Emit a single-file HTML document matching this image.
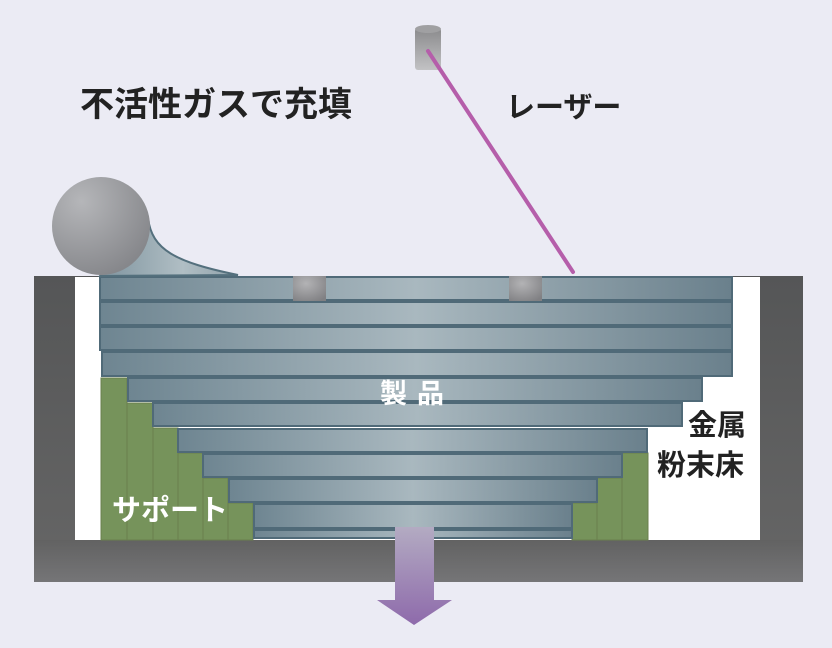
<!DOCTYPE html>
<html><head><meta charset="utf-8"><style>
body{margin:0;background:#ebebf4;}
svg{display:block}
text{font-family:"Liberation Sans","Noto Sans CJK JP",sans-serif;font-weight:bold}
</style></head><body>
<svg width="832" height="648" viewBox="0 0 832 648">
<defs>
<linearGradient id="lay" x1="0" x2="1" y1="0" y2="0">
<stop offset="0" stop-color="#6e8591"/><stop offset="0.5" stop-color="#a9b8bf"/><stop offset="1" stop-color="#6a808c"/>
</linearGradient>
<linearGradient id="base" x1="0" x2="0" y1="0" y2="1"><stop offset="0" stop-color="#626262"/><stop offset="1" stop-color="#757577"/></linearGradient>
<linearGradient id="wall" x1="0" x2="0" y1="0" y2="1"><stop offset="0" stop-color="#555657"/><stop offset="1" stop-color="#666"/></linearGradient>
<radialGradient id="ball" cx="0.3" cy="0.25" r="0.8"><stop offset="0" stop-color="#b5b6b9"/><stop offset="1" stop-color="#86878b"/></radialGradient>
<radialGradient id="cube" cx="0.4" cy="0.3" r="0.8"><stop offset="0" stop-color="#b3b3b5"/><stop offset="1" stop-color="#808083"/></radialGradient>
<linearGradient id="cyl" x1="0" x2="0" y1="0" y2="1"><stop offset="0" stop-color="#8a8a8c"/><stop offset="1" stop-color="#c2c2c4"/></linearGradient>
<linearGradient id="arr" x1="0" x2="0" y1="0" y2="1"><stop offset="0" stop-color="#b3abc2"/><stop offset="1" stop-color="#8e6aab"/></linearGradient>
<linearGradient id="wip" x1="0" x2="1"><stop offset="0" stop-color="#7f949f"/><stop offset="0.6" stop-color="#b0bec4"/><stop offset="1" stop-color="#8fa1aa"/></linearGradient>
</defs>
<rect x="34" y="276" width="769" height="306" fill="url(#wall)"/>
<rect x="75" y="277" width="685" height="263" fill="#fff"/>
<rect x="34" y="540" width="769" height="42" fill="url(#base)"/>
<g fill="#76935b" stroke="#6a7f4e" stroke-width="1">
<rect x="101" y="378" width="26" height="162"/>
<rect x="127" y="403" width="26" height="137"/>
<rect x="153" y="428" width="25" height="112"/>
<rect x="178" y="453" width="25" height="87"/>
<rect x="203" y="478" width="25" height="62"/>
<rect x="228" y="503" width="25" height="37"/>
<rect x="572" y="503" width="25" height="37"/>
<rect x="597" y="478" width="25" height="62"/>
<rect x="622" y="453" width="26" height="87"/>
</g>
<g fill="url(#lay)" stroke="#506a78" stroke-width="2">
<rect x="100" y="277" width="632" height="23"/>
<rect x="100" y="302" width="632" height="23"/>
<rect x="100" y="327" width="632" height="23"/>
<rect x="102" y="352" width="630" height="24"/>
<rect x="128" y="378" width="574" height="23"/>
<rect x="153" y="403" width="529" height="23"/>
<rect x="178" y="429" width="469" height="23"/>
<rect x="203" y="454" width="419" height="23"/>
<rect x="229" y="479" width="368" height="23"/>
<rect x="254" y="504" width="318" height="24"/>
<rect x="254" y="530" width="318" height="8"/>
</g>
<rect x="293" y="276" width="33" height="25" fill="url(#cube)"/>
<rect x="509" y="276" width="33" height="25" fill="url(#cube)"/>
<path d="M148,218 C152,250 175,262 238,275 L100,276 Z" fill="url(#wip)" stroke="#54707d" stroke-width="2"/>
<circle cx="101" cy="226" r="49" fill="url(#ball)"/>
<rect x="415" y="28" width="26" height="42" rx="3" fill="url(#cyl)"/>
<ellipse cx="428" cy="29" rx="13" ry="4" fill="#a0a0a2"/>
<line x1="428" y1="51" x2="573" y2="272" stroke="#b55eaa" stroke-width="4" stroke-linecap="round"/>
<polygon points="395,527 434,527 434,600 452,600 414,625 377,600 395,600" fill="url(#arr)"/>
<text x="80" y="116" font-size="34" fill="#222">不活性ガスで充填</text>
<text x="506" y="117" font-size="29" fill="#222">レーザー</text>
<text x="380" y="403" font-size="27" fill="#fff" letter-spacing="10">製品</text>
<text x="688" y="435" font-size="29" fill="#222">金属</text>
<text x="657" y="475" font-size="29" fill="#222">粉末床</text>
<text x="112" y="520" font-size="29" fill="#fff">サポート</text>
</svg>
</body></html>
